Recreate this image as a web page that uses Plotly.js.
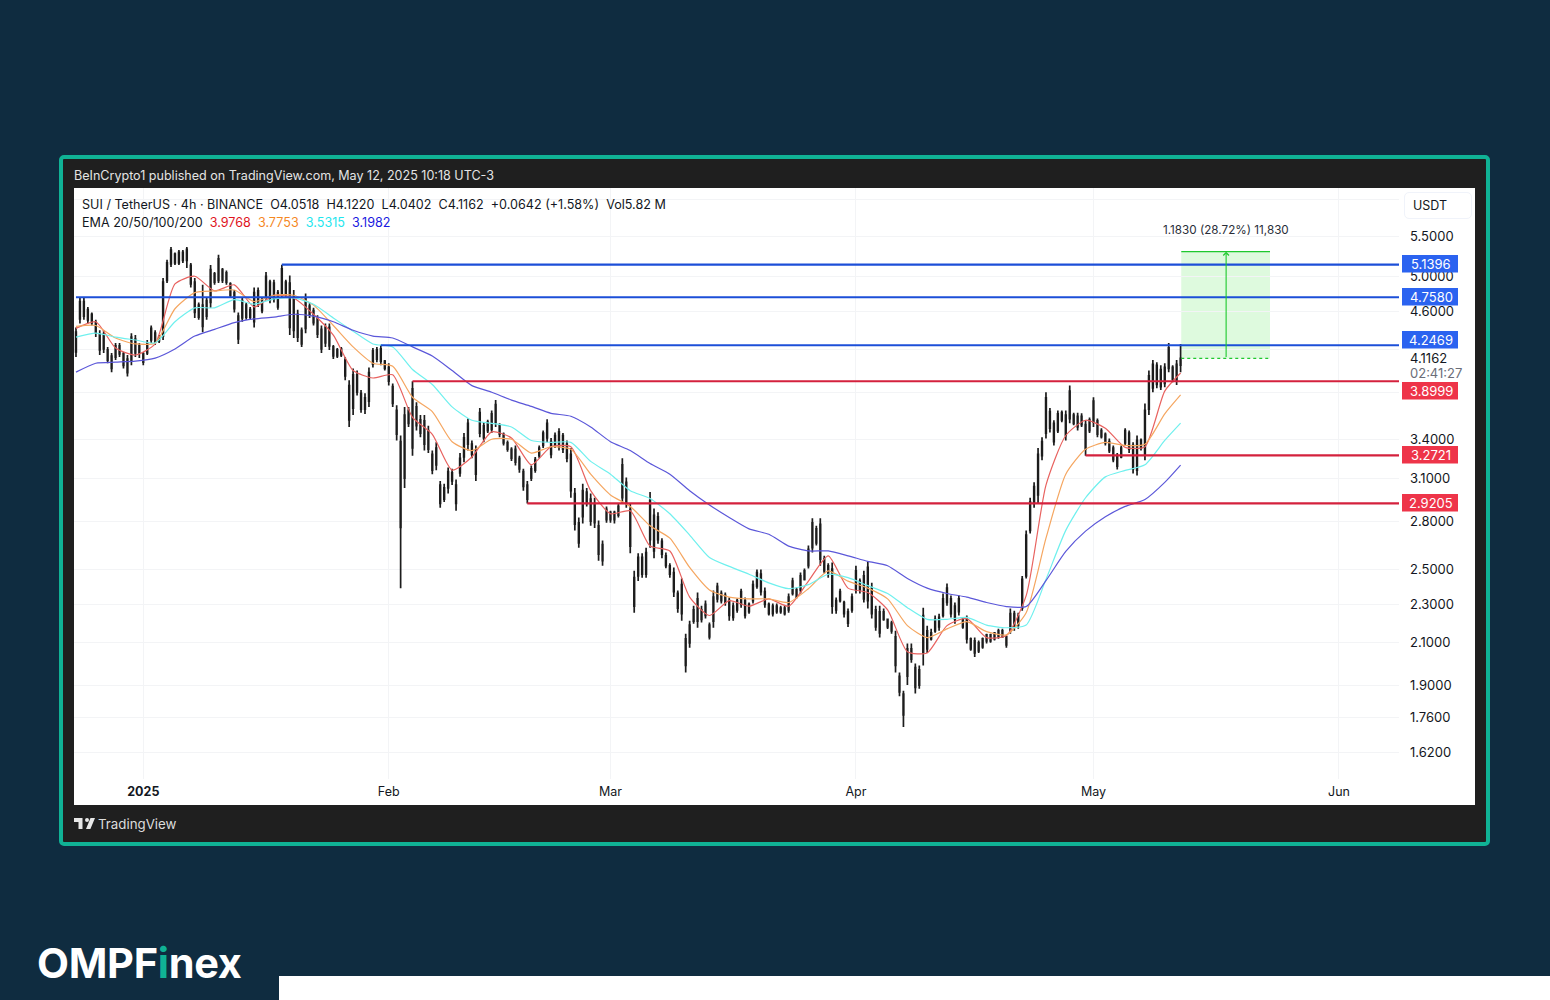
<!DOCTYPE html>
<html><head><meta charset="utf-8">
<script src="https://cdn.plot.ly/plotly-3.0.1.min.js"></script>
<style>
html,body{margin:0;padding:0;background:#0f2c40;width:1550px;height:1000px;overflow:hidden;font-family:Inter,Roboto,sans-serif}
#frame{position:absolute;left:59px;top:155px;width:1423px;height:683px;border:4px solid #10b295;border-radius:5px;background:#1f1f1f}
#panel{position:absolute;left:74px;top:188px;width:1401px;height:617px;background:#fff}
#head{position:absolute;left:74px;top:168px;font-size:12.55px;color:#e4e4e4;white-space:nowrap}
#tv{position:absolute;left:98px;top:816px;font-size:13.3px;color:#dcdcdc}
#tvlogo{position:absolute;left:74px;top:818px}
#logo{position:absolute;left:37px;top:937px;font-size:41.5px;font-weight:700;color:#fff;letter-spacing:-.3px;line-height:52px}
#logo span{color:#10b295}
#strip{position:absolute;left:279px;top:976px;width:1271px;height:24px;background:#fff}
#usdt{position:absolute;left:1404px;top:192px;width:58px;padding-left:8px;height:25px;border:1px solid #f0f3fa;border-radius:5px;background:#fff;font-size:12.5px;color:#131722;text-align:left;line-height:25px}
#chart{position:absolute;left:0;top:0;width:1550px;height:1000px}
</style></head><body>
<div id="frame"></div><div id="panel"></div>
<div id="head">BeInCrypto1 published on TradingView.com, May 12, 2025 10:18 UTC-3</div>
<svg id="tvlogo" width="21" height="12" viewBox="0 0 21 12"><path fill="#e8e8e8" d="M0 0h8.5v11H4.5V4H0zM13 0a2 2 0 1 1 0 4 2 2 0 0 1 0-4zM16.5 0H21l-4.6 11H12z"/></svg>
<div id="tv">TradingView</div>
<div id="logo">OMPF<span>i</span>nex</div>
<div id="strip"></div>
<div id="chart"></div>
<div id="usdt">USDT</div>
<script>
// 12-hour sampled reading of the candles
const barHigh = [
4.43,4.76,4.75,4.65,4.59,4.51,4.40,4.40,4.23,4.17,
4.27,4.27,4.18,4.15,4.37,4.35,4.27,4.18,4.30,4.45,
4.40,4.35,4.98,5.20,5.36,5.29,5.32,5.32,5.36,5.16,
4.98,4.70,4.90,4.76,5.135,5.05,5.26,5.10,5.07,4.93,
4.84,4.59,4.76,4.70,4.65,4.87,4.87,4.76,5.05,4.96,
4.96,4.84,5.1396,4.96,5.01,4.84,4.62,4.43,4.80,4.69,
4.64,4.56,4.45,4.47,4.47,4.25,4.22,4.23,4.13,3.91,
4.02,4.00,3.82,3.79,4.03,4.22,4.23,4.2469,4.10,4.07,
3.88,3.685,3.43,3.67,3.67,3.8999,3.71,3.60,3.60,3.51,
3.31,3.375,3.08,3.06,3.18,3.17,3.09,3.29,3.45,3.57,
3.39,3.35,3.66,3.54,3.56,3.64,3.73,3.53,3.455,3.39,
3.335,3.35,3.27,3.17,3.08,3.195,3.26,3.35,3.47,3.565,
3.41,3.455,3.49,3.45,3.39,3.33,3.03,2.825,3.06,3.03,
2.99,2.96,2.805,2.675,2.90,2.87,2.87,2.92,3.25,3.105,
2.92,2.49,2.595,2.595,2.63,3.00,2.885,2.86,2.69,2.60,
2.535,2.51,2.376,2.445,2.146,2.213,2.293,2.365,2.293,2.321,
2.203,2.376,2.42,2.376,2.365,2.338,2.31,2.332,2.387,2.338,
2.31,2.433,2.498,2.498,2.393,2.31,2.304,2.304,2.293,2.293,
2.36,2.45,2.393,2.48,2.504,2.644,2.82,2.77,2.82,2.58,
2.535,2.54,2.338,2.387,2.32,2.277,2.36,2.52,2.445,2.49,
2.546,2.42,2.293,2.293,2.277,2.224,2.213,2.161,1.957,1.875,
2.096,2.096,1.999,1.99,2.282,2.187,2.171,2.24,2.25,2.36,
2.416,2.348,2.31,2.348,2.229,2.24,2.126,2.126,2.111,2.126,
2.146,2.146,2.151,2.171,2.171,2.136,2.277,2.266,2.255,2.46,
2.74,2.96,3.07,3.33,3.415,3.80,3.66,3.556,3.64,3.64,
3.64,3.86,3.62,3.62,3.615,3.556,3.58,3.755,3.57,3.49,
3.455,3.405,3.35,3.29,3.35,3.49,3.47,3.375,3.43,3.405,
3.70,4.00,4.10,4.08,4.05,4.07,4.27,4.05,4.10,4.26];
const barLow = [
4.13,4.47,4.51,4.47,4.45,4.33,4.15,4.17,4.07,3.985,
4.10,4.13,4.02,3.945,4.05,4.13,4.12,4.05,4.15,4.27,
4.25,4.27,4.30,4.92,5.11,5.135,5.135,5.16,5.10,4.87,
4.53,4.51,4.38,4.51,4.64,4.90,4.92,4.92,4.90,4.75,
4.59,4.26,4.49,4.51,4.51,4.43,4.65,4.58,4.73,4.69,
4.70,4.62,4.75,4.76,4.35,4.32,4.28,4.23,4.37,4.53,
4.45,4.32,4.17,4.23,4.20,4.11,4.12,4.13,3.91,3.50,
3.60,3.77,3.62,3.61,3.67,4.03,4.08,4.05,4.00,3.86,
3.67,3.39,2.39,3.03,3.50,3.27,3.47,3.415,3.31,3.29,
3.13,3.16,2.89,2.93,2.99,3.05,2.87,3.11,3.22,3.31,
3.25,3.08,3.415,3.375,3.45,3.45,3.50,3.415,3.35,3.30,
3.23,3.195,3.14,3.01,2.92,3.08,3.14,3.25,3.33,3.375,
3.25,3.33,3.31,3.29,3.22,2.96,2.74,2.63,2.785,2.90,
2.77,2.755,2.55,2.52,2.79,2.79,2.785,2.825,2.92,2.89,
2.595,2.255,2.43,2.45,2.45,2.63,2.565,2.655,2.565,2.505,
2.45,2.34,2.255,2.213,1.957,2.076,2.197,2.176,2.203,2.224,
2.116,2.176,2.31,2.305,2.293,2.213,2.213,2.255,2.282,2.224,
2.25,2.305,2.387,2.348,2.282,2.24,2.235,2.25,2.25,2.24,
2.255,2.348,2.332,2.36,2.433,2.504,2.60,2.644,2.52,2.474,
2.45,2.25,2.25,2.31,2.23,2.18,2.255,2.36,2.36,2.31,
2.277,2.224,2.161,2.126,2.213,2.17,2.146,1.957,1.85,1.72,
1.90,2.003,1.862,1.884,1.99,2.05,2.111,2.151,2.161,2.229,
2.293,2.229,2.197,2.24,2.171,2.096,2.061,2.03,2.05,2.07,
2.096,2.10,2.111,2.12,2.126,2.076,2.146,2.161,2.171,2.266,
2.445,2.72,2.89,2.92,3.234,3.405,3.455,3.35,3.45,3.54,
3.39,3.53,3.515,3.47,3.50,3.27,3.45,3.50,3.415,3.405,
3.35,3.29,3.22,3.165,3.25,3.35,3.29,3.135,3.12,3.31,
3.234,3.60,3.80,3.835,3.82,3.845,3.985,3.89,3.865,3.985];
const barOpen = [
4.18,4.52,4.71,4.62,4.57,4.48,4.36,4.21,4.20,4.14,
4.13,4.24,4.16,4.11,4.09,4.31,4.17,4.16,4.17,4.30,
4.37,4.29,4.34,4.95,5.15,5.27,5.16,5.29,5.19,5.13,
4.93,4.54,4.67,4.55,4.70,5.03,4.95,5.08,4.93,4.91,
4.81,4.55,4.53,4.67,4.54,4.49,4.83,4.73,4.77,4.93,
4.74,4.81,4.80,4.93,4.92,4.40,4.57,4.26,4.42,4.66,
4.61,4.52,4.41,4.27,4.43,4.23,4.14,4.21,4.10,3.86,
3.66,3.96,3.79,3.65,3.72,4.06,4.20,4.09,4.09,4.03,
3.85,3.64,3.38,3.10,3.64,3.33,3.67,3.56,3.36,3.47,
3.28,3.20,3.05,2.95,3.03,3.14,3.05,3.14,3.26,3.36,
3.36,3.31,3.45,3.51,3.47,3.48,3.54,3.51,3.44,3.37,
3.32,3.22,3.25,3.15,3.05,3.10,3.16,3.27,3.35,3.41,
3.38,3.35,3.34,3.43,3.36,3.28,2.99,2.79,2.83,3.00,
2.95,2.79,2.77,2.55,2.81,2.86,2.81,2.84,2.96,3.07,
2.88,2.45,2.46,2.57,2.47,2.68,2.84,2.68,2.67,2.58,
2.52,2.48,2.36,2.25,2.12,2.10,2.21,2.21,2.27,2.24,
2.19,2.21,2.33,2.36,2.31,2.32,2.23,2.27,2.30,2.32,
2.26,2.32,2.40,2.47,2.37,2.30,2.25,2.29,2.26,2.28,
2.27,2.36,2.38,2.38,2.44,2.52,2.63,2.75,2.78,2.56,
2.52,2.50,2.27,2.32,2.31,2.26,2.27,2.38,2.43,2.33,
2.51,2.39,2.27,2.15,2.26,2.22,2.20,2.13,1.94,1.86,
1.94,2.07,1.98,1.90,2.05,2.16,2.12,2.16,2.23,2.24,
2.31,2.33,2.22,2.26,2.22,2.22,2.12,2.05,2.10,2.08,
2.11,2.14,2.12,2.13,2.16,2.13,2.16,2.25,2.19,2.28,
2.46,2.74,2.92,2.98,3.27,3.45,3.63,3.53,3.47,3.62,
3.60,3.57,3.60,3.50,3.59,3.52,3.47,3.54,3.55,3.47,
3.44,3.38,3.33,3.27,3.26,3.37,3.45,3.35,3.16,3.39,
3.28,3.65,3.84,4.05,3.85,4.03,4.02,4.03,3.90,4.0518];
const barClose = [
4.38,4.71,4.55,4.51,4.48,4.37,4.20,4.36,4.10,4.02,
4.24,4.16,4.05,3.98,4.33,4.17,4.24,4.08,4.27,4.42,
4.28,4.33,4.93,5.16,5.32,5.16,5.29,5.19,5.33,4.91,
4.59,4.67,4.44,4.72,5.08,4.93,5.21,4.95,5.04,4.78,
4.63,4.31,4.72,4.54,4.62,4.81,4.69,4.61,5.00,4.73,
4.92,4.65,5.09,4.79,4.43,4.77,4.33,4.40,4.74,4.56,
4.48,4.36,4.21,4.43,4.24,4.14,4.20,4.15,3.95,3.56,
3.96,3.80,3.65,3.75,3.98,4.19,4.11,4.21,4.02,3.90,
3.70,3.44,2.76,3.60,3.53,3.83,3.51,3.45,3.55,3.32,
3.16,3.33,2.92,3.03,3.15,3.08,2.92,3.25,3.41,3.53,
3.28,3.13,3.62,3.41,3.54,3.61,3.69,3.44,3.37,3.32,
3.25,3.32,3.17,3.04,2.95,3.17,3.24,3.33,3.45,3.53,
3.28,3.43,3.46,3.32,3.25,3.01,2.78,2.66,3.01,2.92,
2.80,2.92,2.59,2.65,2.88,2.81,2.86,2.90,3.20,2.93,
2.64,2.29,2.57,2.47,2.60,2.94,2.61,2.83,2.59,2.52,
2.47,2.37,2.28,2.41,1.99,2.19,2.27,2.33,2.22,2.30,
2.13,2.34,2.40,2.32,2.35,2.24,2.29,2.32,2.37,2.24,
2.30,2.41,2.48,2.37,2.30,2.25,2.29,2.26,2.28,2.25,
2.34,2.43,2.34,2.46,2.49,2.62,2.79,2.66,2.56,2.49,
2.47,2.29,2.32,2.37,2.25,2.20,2.34,2.49,2.38,2.46,
2.32,2.25,2.18,2.26,2.22,2.18,2.16,1.99,1.87,1.77,
2.07,2.02,1.89,1.97,2.24,2.07,2.15,2.22,2.18,2.33,
2.39,2.25,2.29,2.33,2.18,2.12,2.07,2.11,2.06,2.12,
2.14,2.11,2.15,2.16,2.13,2.09,2.25,2.18,2.24,2.44,
2.71,2.93,3.04,3.28,3.38,3.75,3.49,3.38,3.61,3.56,
3.43,3.81,3.53,3.59,3.52,3.32,3.56,3.72,3.44,3.42,
3.37,3.31,3.24,3.19,3.33,3.47,3.32,3.17,3.39,3.33,
3.64,3.95,4.06,3.87,4.01,3.88,4.22,3.92,4.06,4.1162];

// every EMA is read at these bar numbers
const emaBars = [0,5,10,15,20,25,30,35,40,45,50,55,60,65,70,75,80,85,90,95,100,105,110,115,120,125,130,135,140,145,150,155,160,165,170,175,180,185,190,195,200,205,210,215,220,225,230,235,240,245,250,255,260,265,270,275,279];
const ema20 = [4.42,4.49,4.22,4.15,4.26,4.91,5.00,4.83,4.90,4.65,
4.78,4.75,4.57,4.35,4.00,3.93,3.96,3.58,3.44,3.16,
3.26,3.46,3.41,3.20,3.34,3.34,3.01,2.85,2.87,2.64,
2.61,2.34,2.24,2.32,2.29,2.33,2.29,2.43,2.58,
2.39,2.365,2.27,2.056,2.05,2.187,2.224,2.126,2.136,
2.348,3.05,3.43,3.556,3.49,3.335,3.34,3.81,3.9768];
const ema50 = [4.44,4.45,4.32,4.26,4.27,4.63,4.81,4.83,4.84,4.71,
4.78,4.78,4.67,4.45,4.23,4.07,4.04,3.755,3.63,3.38,
3.31,3.40,3.40,3.29,3.34,3.32,3.13,2.98,2.90,2.77,
2.69,2.51,2.38,2.34,2.33,2.33,2.31,2.387,2.49,
2.43,2.39,2.33,2.187,2.126,2.17,2.208,2.156,2.14,
2.255,2.69,3.13,3.32,3.375,3.35,3.36,3.61,3.7753];
const ema100 = [4.33,4.37,4.33,4.30,4.27,4.49,4.64,4.64,4.73,4.68,
4.74,4.75,4.68,4.53,4.39,4.26,4.23,4.01,3.87,3.67,
3.556,3.53,3.50,3.39,3.375,3.375,3.226,3.13,3.01,2.955,
2.85,2.71,2.57,2.516,2.47,2.42,2.387,2.41,2.47,
2.45,2.404,2.36,2.282,2.22,2.22,2.23,2.19,2.176,
2.19,2.44,2.74,2.96,3.11,3.158,3.20,3.39,3.5315];
const ema200 = [3.985,4.07,4.08,4.09,4.12,4.21,4.34,4.41,4.48,4.52,
4.54,4.57,4.55,4.49,4.40,4.34,4.32,4.23,4.14,4.00,
3.86,3.80,3.73,3.675,3.615,3.59,3.50,3.38,3.31,3.21,
3.13,3.01,2.91,2.825,2.75,2.715,2.64,2.61,2.61,
2.58,2.546,2.52,2.445,2.39,2.36,2.34,2.31,2.288,
2.288,2.433,2.607,2.735,2.83,2.90,2.948,3.07,3.1982];
const emaNames = ['EMA 20','EMA 50','EMA 100','EMA 200'];

const levelPrices = [5.1396,4.7580,4.2469,3.8999,3.2721,2.9205];
const levelStartBar = [52,0,77,85,255,114];
const levelLabels = ['5.1396','4.7580','4.2469','3.8999','3.2721','2.9205'];

const priceTicks = [6,5.5,5,4.6,4.2,3.8,3.4,3.1,2.8,2.5,2.3,2.1,1.9,1.76,1.62];
const priceTickLabels = ['','5.5000','5.0000','4.6000','','','3.4000','3.1000','2.8000','2.5000','2.3000','2.1000','1.9000','1.7600','1.6200'];
const monthTicks = ['2025-01-01','2025-02-01','2025-03-01','2025-04-01','2025-05-01','2025-06-01'];
const monthLabels = ['<b>2025</b>','Feb','Mar','Apr','May','Jun'];

const positionEntry = 4.1162, positionTarget = 5.2992;
const positionStart = '2025-05-12 02:00', positionEnd = '2025-05-23 07:00', positionMid = '2025-05-17 18:00';

// styles
const INK='#131722', BLUE='#1c4fd8', RED='#d4213d', TAGBLUE='#2b63f0', TAGRED='#ee3449', GREEN='#1fc82e';
const emaColors=['#e8625f','#f5a660','#6ff0ee','#5b57d9'];
const FONT='Inter, Roboto, sans-serif';

const barDates = barOpen.map((_,k)=>new Date(Date.UTC(2024,11,23,12)+k*43200000).toISOString().slice(0,16).replace('T',' '));
const lastDate = '2025-06-08 14:00';

const traces = [{
  type:'candlestick', x:barDates, open:barOpen, high:barHigh, low:barLow, close:barClose,
  increasing:{line:{color:'#1c1c1c',width:1.7},fillcolor:'#1c1c1c'},
  decreasing:{line:{color:'#1c1c1c',width:1.7},fillcolor:'#1c1c1c'},
  whiskerwidth:0, hoverinfo:'skip', name:'SUI / TetherUS'
}];
[ema20,ema50,ema100,ema200].forEach((v,i)=>traces.push({
  type:'scatter',mode:'lines',name:emaNames[i],x:emaBars.map(k=>barDates[k]),y:v,
  line:{color:emaColors[i],width:1.2,shape:'spline',smoothing:0.6},hoverinfo:'skip'}));
levelPrices.forEach((p,i)=>traces.push({
  type:'scatter',mode:'lines',name:levelLabels[i],x:[barDates[levelStartBar[i]],lastDate],y:[p,p],
  line:{color:i<3?BLUE:RED,width:2.2},hoverinfo:'skip'}));

// page pixel -> paper fraction of the plot area
const PL=74,PR=1399,PT=188,PB=779;
const px=x=>(x-PL)/(PR-PL), py=y=>(PB-y)/(PB-PT);
const note=(text,x,y,o)=>Object.assign({text,xref:'paper',yref:'paper',x:px(x),y:py(y),showarrow:false,xanchor:'left',yanchor:'middle',font:{family:FONT,size:12.6,color:INK}},o||{});
const tagY=[264,297,340,391,455,503];
const annotations=[
  note('SUI / TetherUS · 4h · BINANCE&nbsp;&nbsp;O4.0518&nbsp;&nbsp;H4.1220&nbsp;&nbsp;L4.0402&nbsp;&nbsp;C4.1162&nbsp;&nbsp;+0.0642 (+1.58%)&nbsp;&nbsp;Vol5.82 M',80,204),
  note('EMA 20/50/100/200&nbsp;&nbsp;<span style="color:#e0141e">3.9768</span>&nbsp;&nbsp;<span style="color:#f5881f">3.7753</span>&nbsp;&nbsp;<span style="color:#1fe6ee">3.5315</span>&nbsp;&nbsp;<span style="color:#1a1ae0">3.1982</span>',80,222),
  note('1.1830 (28.72%) 11,830',1226,230,{xanchor:'center',font:{family:FONT,size:11.7,color:'#2a2e39'}}),
  note('4.1162',1408,358,{font:{family:FONT,size:13,color:INK}}),
  note('02:41:27',1408,373,{font:{family:FONT,size:13,color:'#6a6d78'}}),
  {xref:'x',yref:'y',axref:'x',ayref:'y',x:positionMid,y:Math.log10(positionTarget),ax:positionMid,ay:Math.log10(positionEntry),
   text:'',showarrow:true,arrowhead:4,arrowsize:1,arrowwidth:1.1,arrowcolor:GREEN,standoff:0,startstandoff:0}
];
levelLabels.forEach((t,i)=>annotations.push(note(t,1431,tagY[i]-0.5,{
  xanchor:'center',font:{family:FONT,size:13,color:'#fff'}})));

const layout={
  width:1550,height:1000,autosize:false,showlegend:false,
  paper_bgcolor:'rgba(0,0,0,0)',plot_bgcolor:'rgba(0,0,0,0)',
  boxgap:0.75,
  margin:{l:PL,r:1550-PR,t:PT,b:1000-PB,pad:0},
  font:{family:FONT,color:INK},
  xaxis:{type:'date',range:['2024-12-23 06:00',lastDate],tickvals:monthTicks,ticktext:monthLabels,
    tickfont:{family:FONT,size:12.5,color:INK},ticks:'',ticklen:0,showline:false,zeroline:false,
    gridcolor:'#f3f4f6',gridwidth:1,rangeslider:{visible:false},fixedrange:true,ticklabelstandoff:3},
  yaxis:{type:'log',side:'right',range:[0.1822,0.7897],tickvals:priceTicks,ticktext:priceTickLabels,
    tickfont:{family:FONT,size:13,color:INK},ticks:'',showline:false,zeroline:false,
    gridcolor:'#f3f4f6',gridwidth:1,fixedrange:true,ticklabelstandoff:10},
  shapes:[
    {type:'rect',xref:'x',yref:'y',x0:positionStart,x1:positionEnd,y0:positionEntry,y1:positionTarget,
     fillcolor:'rgba(60,225,60,0.17)',line:{width:0},layer:'below'},
    {type:'line',xref:'x',yref:'y',x0:positionStart,x1:positionEnd,y0:positionTarget,y1:positionTarget,line:{color:GREEN,width:1.2}},
    {type:'line',xref:'x',yref:'y',x0:positionStart,x1:positionEnd,y0:positionEntry,y1:positionEntry,line:{color:GREEN,width:1.2,dash:'dot'}}
  ].concat(levelLabels.map((t,i)=>({type:'rect',xref:'paper',yref:'paper',x0:px(1402),x1:px(1458),y0:py(tagY[i]+8.5),y1:py(tagY[i]-9),
     fillcolor:i<3?TAGBLUE:TAGRED,line:{width:0},layer:'above'}))),
  annotations
};
Plotly.newPlot('chart',traces,layout,{staticPlot:true,displayModeBar:false});
</script></body></html>
